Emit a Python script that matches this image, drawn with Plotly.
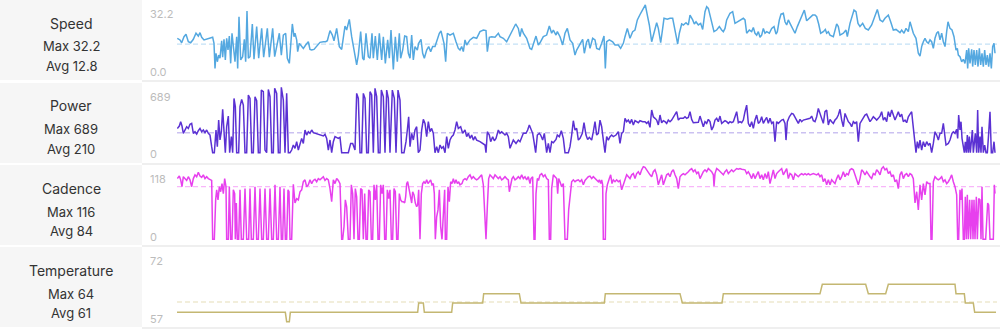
import plotly.graph_objects as go

# ---------------------------------------------------------------- summary text
metric_names = ["Speed", "Power", "Cadence", "Temperature"]
metric_max_text = ["32.2", "689", "116", "64"]
metric_avg = [12.8, 210, 84, 61]
metric_avg_text = ["12.8", "210", "84", "61"]
scale_top_text = ["32.2", "689", "118", "72"]
scale_bottom_text = ["0.0", "0", "0", "57"]

# ---------------------------------------------------------------- ride samples (t = elapsed seconds)
speed_samples = [
    (1, 15.7), (9, 14.9), (14, 13.5), (21, 16.5), (27, 17.7), (34, 14.0), (41, 13.5), (49, 15.2), (57, 18.2), (64, 16.8),
    (69, 18.5), (74, 16.2), (81, 14.9), (89, 15.2), (99, 15.7), (107, 16.2), (111, 13.2), (114, 0.8), (117, 8.3), (121, 4.1),
    (125, 7.4), (129, 5.8), (134, 14.5), (137, 6.3), (141, 15.2), (145, 5.0), (149, 15.7), (153, 9.9), (157, 16.8), (161, 3.3),
    (165, 18.2), (169, 9.9), (174, 4.1), (179, 16.5), (182, 0.8), (186, 26.4), (191, 5.0), (197, 6.6), (202, 15.2), (206, 4.1),
    (210, 29.2), (214, 5.8), (219, 6.6), (226, 22.8), (231, 5.3), (239, 21.5), (245, 5.8), (254, 20.6), (260, 6.3), (271, 20.6),
    (277, 6.3), (287, 20.6), (293, 6.6), (301, 13.2), (307, 18.2), (313, 7.4), (319, 17.3), (326, 18.2), (331, 5.8), (337, 3.3),
    (346, 22.8), (351, 16.5), (354, 18.2), (359, 14.9), (362, 9.1), (367, 13.2), (374, 11.6), (379, 10.7), (386, 12.4), (394, 14.0),
    (399, 10.2), (404, 9.9), (411, 10.2), (419, 11.6), (429, 13.7), (439, 14.0), (446, 14.0), (451, 14.5), (459, 19.5), (466, 17.3),
    (471, 14.5), (479, 20.6), (487, 11.6), (494, 10.2), (499, 17.3), (504, 21.8), (509, 19.8), (517, 25.1), (524, 16.5), (529, 11.6),
    (534, 6.6), (539, 2.5), (544, 7.4), (551, 19.0), (557, 5.8), (561, 5.0), (567, 18.2), (574, 6.6), (579, 5.8), (585, 18.2),
    (589, 5.8), (595, 16.8), (601, 5.0), (607, 18.2), (614, 5.0), (619, 16.5), (625, 3.3), (632, 14.9), (637, 5.8), (642, 19.8),
    (649, 0.3), (655, 16.5), (661, 4.1), (667, 18.2), (671, 5.8), (677, 9.9), (683, 16.8), (689, 16.5), (694, 8.3), (699, 5.8),
    (704, 17.3), (709, 5.0), (714, 11.6), (721, 9.9), (725, 13.2), (732, 15.2), (737, 8.3), (742, 5.8), (749, 9.9), (755, 11.6),
    (761, 9.1), (767, 11.6), (774, 11.6), (781, 15.7), (787, 18.2), (792, 19.3), (797, 16.5), (801, 13.2), (806, 4.1), (811, 18.2),
    (819, 17.3), (829, 18.2), (837, 14.0), (844, 10.7), (849, 9.9), (854, 11.6), (859, 9.1), (864, 14.9), (869, 12.4), (879, 14.9),
    (889, 16.2), (899, 15.7), (909, 19.0), (919, 19.8), (927, 19.5), (931, 9.1), (937, 16.2), (944, 16.5), (954, 16.2), (964, 18.2),
    (969, 16.5), (979, 15.7), (989, 14.0), (999, 17.3), (1009, 19.8), (1016, 22.8), (1024, 20.6), (1029, 16.5), (1034, 20.6), (1039, 18.2),
    (1049, 15.7), (1059, 10.7), (1064, 10.2), (1069, 13.2), (1077, 16.8), (1084, 12.4), (1089, 13.5), (1099, 16.5), (1109, 17.3), (1117, 21.8),
    (1124, 18.2), (1129, 19.8), (1137, 17.3), (1141, 19.0), (1149, 16.5), (1157, 12.4), (1164, 18.2), (1171, 20.6), (1179, 14.9), (1187, 13.2),
    (1194, 7.4), (1199, 9.9), (1209, 13.2), (1217, 15.2), (1222, 8.3), (1229, 14.0), (1234, 15.3), (1239, 10.7), (1247, 15.7), (1254, 14.9),
    (1259, 10.7), (1267, 10.2), (1274, 13.2), (1281, 16.8), (1285, 0.8), (1289, 14.0), (1297, 14.9), (1307, 14.0), (1314, 12.4), (1324, 12.4),
    (1331, 10.7), (1339, 13.2), (1344, 16.5), (1351, 20.6), (1359, 15.7), (1367, 19.0), (1374, 19.8), (1381, 24.8), (1391, 28.1), (1399, 30.5),
    (1405, 32.2), (1411, 27.2), (1417, 22.3), (1424, 14.0), (1431, 19.0), (1439, 23.4), (1444, 20.6), (1451, 13.5), (1457, 20.6), (1461, 25.6),
    (1471, 25.1), (1479, 25.6), (1487, 25.6), (1494, 19.8), (1502, 12.9), (1507, 18.2), (1514, 22.8), (1519, 22.3), (1527, 23.4), (1534, 22.3),
    (1539, 27.2), (1547, 24.8), (1552, 22.8), (1557, 23.9), (1564, 22.3), (1571, 23.1), (1577, 20.1), (1584, 28.9), (1589, 31.4), (1594, 30.5),
    (1599, 27.2), (1604, 24.8), (1611, 19.0), (1619, 19.8), (1627, 21.5), (1634, 19.8), (1639, 19.0), (1644, 20.6), (1649, 24.8), (1659, 28.1),
    (1667, 28.9), (1674, 23.1), (1681, 23.9), (1689, 24.8), (1699, 25.6), (1704, 24.8), (1709, 18.2), (1717, 19.8), (1724, 19.0), (1729, 21.1),
    (1734, 18.2), (1739, 17.3), (1744, 19.0), (1749, 16.2), (1754, 17.3), (1759, 20.6), (1764, 18.2), (1769, 19.0), (1777, 18.2), (1784, 20.6),
    (1791, 21.5), (1797, 17.8), (1801, 19.0), (1807, 24.8), (1812, 27.7), (1819, 28.1), (1824, 23.9), (1829, 22.3), (1834, 24.8), (1839, 23.1),
    (1847, 20.6), (1854, 18.2), (1861, 21.5), (1869, 24.8), (1877, 28.1), (1882, 29.7), (1889, 24.4), (1894, 25.1), (1899, 25.6), (1907, 27.2),
    (1914, 27.2), (1919, 26.4), (1925, 22.8), (1931, 18.2), (1939, 19.0), (1945, 20.1), (1949, 18.2), (1954, 19.0), (1959, 17.3), (1969, 16.5),
    (1979, 22.8), (1984, 21.5), (1989, 17.3), (1999, 18.2), (2007, 19.8), (2011, 16.5), (2019, 23.1), (2027, 28.1), (2031, 29.7), (2037, 28.9),
    (2043, 23.1), (2049, 21.5), (2057, 23.1), (2065, 20.6), (2074, 19.8), (2084, 22.3), (2094, 26.4), (2101, 30.0), (2109, 24.8), (2117, 23.9),
    (2124, 25.6), (2134, 27.2), (2141, 23.9), (2149, 19.8), (2157, 20.1), (2164, 19.0), (2169, 18.5), (2174, 19.8), (2181, 18.2), (2187, 20.6),
    (2194, 19.0), (2199, 23.9), (2204, 21.5), (2209, 18.2), (2217, 15.7), (2224, 8.3), (2229, 6.9), (2234, 11.6), (2239, 14.0), (2244, 15.7),
    (2249, 14.0), (2254, 13.2), (2259, 14.9), (2264, 14.0), (2269, 10.7), (2274, 15.7), (2279, 18.2), (2284, 19.0), (2289, 14.9), (2294, 18.2),
    (2299, 14.0), (2304, 11.6), (2309, 19.0), (2313, 23.9), (2319, 20.6), (2325, 19.8), (2331, 16.5), (2337, 9.9), (2341, 10.7), (2344, 7.4),
    (2349, 6.6), (2354, 4.1), (2359, 5.3), (2364, 3.3), (2369, 9.9), (2372, 0.8), (2375, 10.7), (2379, 3.3), (2384, 10.2), (2387, 1.7),
    (2391, 9.9), (2395, 2.5), (2399, 9.9), (2403, 1.7), (2407, 10.7), (2411, 2.5), (2415, 8.3), (2419, 1.7), (2423, 9.9), (2427, 2.5),
    (2431, 7.4), (2435, 1.7), (2439, 8.3), (2443, 0.8), (2447, 11.6), (2451, 13.2), (2454, 8.3),
]

power_samples = [
    (1, 256), (7, 281), (11, 327), (15, 281), (19, 204), (24, 246), (29, 274), (34, 256), (39, 299), (44, 309),
    (49, 204), (54, 221), (59, 197), (64, 232), (69, 256), (74, 221), (79, 239), (84, 211), (89, 239), (94, 204),
    (99, 186), (104, 63), (107, 0), (112, 0), (117, 239), (121, 63), (125, 344), (129, 134), (133, 221), (137, 457),
    (141, 169), (145, 0), (149, 274), (154, 386), (158, 0), (163, 169), (167, 0), (171, 572), (175, 485), (179, 0),
    (185, 0), (189, 485), (194, 562), (199, 502), (204, 0), (209, 0), (214, 608), (219, 572), (224, 0), (229, 0),
    (234, 590), (239, 548), (244, 0), (249, 0), (253, 660), (259, 643), (264, 28), (269, 0), (274, 667), (279, 590),
    (284, 0), (289, 0), (293, 678), (299, 625), (304, 0), (309, 0), (313, 689), (319, 555), (324, 0), (329, 625),
    (334, 0), (339, 0), (344, 28), (349, 81), (354, 46), (359, 116), (364, 28), (369, 98), (374, 151), (379, 98),
    (384, 239), (389, 186), (394, 221), (399, 204), (404, 239), (409, 211), (419, 197), (429, 186), (439, 176), (444, 193),
    (449, 151), (454, 28), (459, 134), (464, 0), (469, 116), (474, 169), (479, 162), (484, 151), (489, 162), (494, 0),
    (504, 0), (514, 0), (521, 98), (527, 98), (534, 28), (539, 625), (544, 572), (549, 0), (554, 0), (559, 625),
    (564, 572), (569, 0), (574, 0), (579, 643), (584, 608), (589, 0), (594, 678), (599, 590), (604, 0), (609, 0),
    (613, 660), (619, 590), (624, 0), (629, 660), (634, 572), (639, 0), (646, 660), (652, 572), (657, 0), (663, 660),
    (669, 555), (674, 0), (681, 0), (687, 116), (691, 239), (695, 379), (699, 63), (704, 204), (709, 134), (714, 239),
    (719, 274), (724, 0), (729, 28), (734, 239), (739, 351), (744, 309), (749, 169), (754, 327), (759, 221), (764, 256),
    (769, 204), (774, 0), (779, 63), (784, 0), (789, 81), (794, 46), (799, 63), (804, 0), (809, 169), (814, 46),
    (819, 134), (824, 169), (829, 186), (834, 239), (839, 327), (844, 256), (851, 274), (857, 204), (864, 239), (869, 169),
    (874, 204), (879, 151), (884, 186), (889, 133), (894, 169), (899, 133), (909, 116), (919, 98), (924, 81), (927, 0),
    (931, 221), (937, 186), (941, 116), (947, 169), (952, 126), (957, 151), (964, 239), (969, 204), (974, 221), (979, 204),
    (984, 186), (989, 204), (994, 169), (999, 46), (1004, 81), (1009, 133), (1017, 98), (1024, 133), (1029, 116), (1034, 169),
    (1039, 204), (1047, 204), (1052, 239), (1057, 292), (1062, 239), (1067, 204), (1071, 116), (1076, 0), (1081, 186), (1087, 204),
    (1091, 186), (1097, 133), (1102, 204), (1109, 0), (1114, 98), (1119, 0), (1124, 116), (1129, 105), (1137, 140), (1141, 186),
    (1147, 169), (1153, 232), (1159, 151), (1164, 0), (1174, 0), (1179, 63), (1184, 186), (1189, 337), (1194, 239), (1199, 256),
    (1204, 133), (1209, 151), (1216, 204), (1221, 316), (1227, 186), (1232, 140), (1237, 162), (1244, 133), (1249, 221), (1254, 327),
    (1259, 186), (1264, 204), (1269, 344), (1274, 274), (1279, 133), (1284, 0), (1289, 169), (1294, 133), (1299, 169), (1304, 186),
    (1309, 169), (1317, 186), (1324, 221), (1329, 98), (1334, 204), (1339, 221), (1344, 362), (1349, 327), (1354, 344), (1359, 309),
    (1364, 351), (1369, 292), (1374, 337), (1379, 327), (1384, 316), (1389, 337), (1397, 327), (1404, 327), (1409, 309), (1414, 327),
    (1419, 267), (1424, 450), (1429, 379), (1434, 362), (1439, 344), (1444, 292), (1449, 397), (1454, 316), (1459, 337), (1464, 327),
    (1469, 309), (1474, 344), (1479, 327), (1484, 344), (1489, 379), (1494, 414), (1499, 432), (1504, 344), (1509, 362), (1519, 362),
    (1524, 379), (1529, 362), (1534, 372), (1539, 432), (1544, 351), (1549, 316), (1554, 320), (1559, 320), (1564, 320), (1569, 386),
    (1574, 327), (1579, 274), (1584, 327), (1589, 309), (1594, 351), (1599, 327), (1604, 239), (1609, 274), (1614, 344), (1619, 362),
    (1624, 327), (1629, 386), (1634, 309), (1639, 327), (1644, 337), (1649, 327), (1654, 309), (1659, 327), (1664, 316), (1669, 327),
    (1674, 386), (1679, 432), (1684, 316), (1689, 327), (1694, 316), (1699, 344), (1704, 432), (1709, 502), (1714, 309), (1719, 274),
    (1724, 327), (1729, 256), (1734, 344), (1739, 397), (1744, 309), (1749, 327), (1754, 379), (1759, 309), (1764, 344), (1769, 372),
    (1774, 309), (1779, 362), (1784, 309), (1789, 327), (1794, 116), (1799, 327), (1804, 309), (1809, 327), (1814, 344), (1819, 351),
    (1824, 309), (1827, 133), (1831, 327), (1837, 379), (1844, 414), (1849, 407), (1854, 379), (1859, 337), (1864, 309), (1869, 351),
    (1874, 327), (1879, 344), (1889, 351), (1899, 362), (1904, 386), (1909, 337), (1914, 327), (1919, 379), (1924, 467), (1929, 414),
    (1934, 344), (1939, 309), (1944, 432), (1949, 450), (1954, 292), (1959, 351), (1964, 327), (1969, 309), (1974, 344), (1979, 362),
    (1984, 397), (1989, 457), (1994, 344), (1999, 274), (2004, 414), (2009, 372), (2014, 327), (2019, 309), (2024, 274), (2029, 327),
    (2034, 309), (2039, 327), (2044, 116), (2049, 309), (2054, 344), (2059, 362), (2064, 397), (2069, 407), (2074, 362), (2079, 327),
    (2084, 351), (2089, 379), (2094, 362), (2099, 344), (2104, 362), (2109, 386), (2114, 432), (2119, 344), (2124, 372), (2129, 327),
    (2134, 432), (2139, 379), (2144, 450), (2149, 397), (2154, 344), (2159, 386), (2164, 432), (2169, 379), (2174, 407), (2179, 327),
    (2184, 344), (2189, 316), (2194, 379), (2199, 407), (2204, 432), (2207, 327), (2211, 169), (2217, 0), (2221, 116), (2225, 46),
    (2229, 133), (2234, 28), (2239, 116), (2244, 63), (2249, 116), (2254, 81), (2259, 98), (2264, 0), (2269, 98), (2274, 221),
    (2279, 186), (2284, 133), (2289, 204), (2294, 204), (2299, 309), (2302, 204), (2307, 81), (2314, 98), (2319, 133), (2325, 204),
    (2329, 221), (2334, 204), (2339, 246), (2342, 151), (2345, 397), (2349, 239), (2352, 327), (2355, 151), (2359, 81), (2362, 0),
    (2365, 116), (2368, 0), (2371, 186), (2374, 0), (2377, 169), (2380, 0), (2383, 116), (2386, 239), (2389, 0), (2392, 151),
    (2395, 204), (2399, 0), (2402, 450), (2405, 0), (2409, 169), (2412, 0), (2415, 274), (2419, 0), (2423, 81), (2427, 0),
    (2431, 0), (2435, 204), (2439, 432), (2443, 0), (2447, 0), (2451, 116), (2454, 0),
]

cadence_samples = [
    (1, 97), (7, 101), (11, 95), (15, 84), (19, 100), (24, 97), (29, 94), (34, 100), (39, 95), (44, 84),
    (49, 97), (54, 103), (59, 100), (64, 107), (69, 101), (74, 99), (79, 103), (84, 97), (89, 100), (94, 97),
    (99, 95), (104, 94), (107, 0), (112, 0), (116, 63), (119, 79), (123, 63), (127, 84), (131, 76), (135, 89),
    (139, 73), (143, 97), (147, 84), (149, 0), (154, 0), (157, 84), (161, 0), (165, 0), (169, 79), (173, 73),
    (175, 0), (178, 58), (181, 0), (185, 0), (189, 79), (193, 0), (199, 0), (204, 81), (209, 0), (215, 0),
    (219, 81), (223, 0), (229, 0), (234, 84), (239, 0), (244, 0), (249, 81), (254, 0), (259, 0), (264, 81),
    (269, 0), (274, 0), (279, 81), (284, 0), (289, 0), (294, 87), (299, 0), (304, 0), (309, 84), (313, 0),
    (317, 0), (321, 81), (325, 0), (329, 0), (333, 79), (336, 76), (339, 0), (344, 0), (349, 88), (354, 58),
    (359, 65), (364, 63), (369, 76), (374, 79), (379, 92), (384, 95), (389, 84), (394, 87), (399, 95), (404, 89),
    (409, 94), (414, 96), (419, 92), (424, 97), (429, 95), (434, 97), (439, 100), (444, 94), (449, 97), (454, 95),
    (459, 81), (464, 60), (469, 95), (474, 89), (479, 97), (484, 94), (489, 89), (494, 0), (497, 0), (501, 20),
    (505, 63), (509, 52), (514, 0), (519, 0), (523, 87), (527, 73), (531, 0), (535, 81), (539, 68), (543, 0),
    (547, 0), (551, 81), (555, 79), (559, 0), (563, 73), (567, 0), (571, 0), (575, 79), (579, 76), (583, 0),
    (587, 0), (591, 87), (595, 63), (599, 87), (603, 0), (607, 0), (611, 87), (615, 73), (619, 87), (623, 0),
    (627, 0), (631, 79), (635, 65), (639, 79), (643, 0), (647, 0), (651, 81), (655, 76), (659, 0), (663, 0),
    (667, 73), (671, 63), (675, 60), (679, 60), (683, 58), (686, 68), (689, 89), (692, 92), (695, 84), (699, 73),
    (704, 58), (707, 76), (711, 71), (715, 58), (719, 52), (722, 55), (725, 79), (729, 0), (733, 73), (737, 89),
    (741, 92), (745, 89), (749, 95), (753, 89), (757, 92), (761, 95), (765, 87), (769, 89), (772, 73), (775, 0),
    (779, 36), (783, 47), (787, 79), (791, 20), (795, 0), (799, 52), (803, 79), (805, 0), (809, 0), (813, 84),
    (817, 60), (821, 92), (825, 89), (829, 97), (833, 89), (837, 95), (841, 89), (845, 92), (849, 87), (855, 89),
    (859, 95), (864, 97), (869, 95), (874, 100), (879, 103), (884, 97), (889, 100), (894, 97), (899, 95), (904, 97),
    (909, 100), (914, 103), (919, 87), (924, 36), (927, 0), (931, 52), (935, 97), (939, 103), (944, 100), (949, 97),
    (954, 103), (959, 100), (964, 97), (969, 100), (974, 95), (979, 97), (984, 100), (989, 97), (994, 95), (997, 76),
    (1001, 89), (1005, 97), (1009, 100), (1014, 95), (1019, 97), (1024, 100), (1029, 97), (1034, 103), (1039, 97), (1044, 100),
    (1049, 95), (1054, 100), (1059, 89), (1062, 97), (1067, 100), (1071, 0), (1074, 0), (1077, 73), (1081, 97), (1085, 95),
    (1089, 103), (1094, 105), (1099, 100), (1104, 103), (1109, 97), (1114, 95), (1117, 0), (1121, 0), (1124, 81), (1129, 103),
    (1134, 100), (1139, 97), (1142, 73), (1145, 97), (1149, 92), (1154, 84), (1159, 89), (1164, 0), (1167, 0), (1171, 0),
    (1175, 47), (1184, 92), (1189, 95), (1194, 92), (1199, 94), (1204, 95), (1209, 92), (1214, 95), (1219, 87), (1224, 94),
    (1229, 97), (1234, 100), (1239, 101), (1244, 97), (1249, 100), (1254, 97), (1259, 95), (1264, 92), (1267, 95), (1271, 89),
    (1274, 95), (1277, 87), (1279, 0), (1285, 0), (1287, 73), (1291, 87), (1297, 97), (1301, 103), (1305, 89), (1309, 95),
    (1314, 92), (1319, 95), (1324, 92), (1329, 94), (1334, 79), (1339, 89), (1344, 95), (1349, 103), (1354, 100), (1359, 97),
    (1364, 103), (1369, 105), (1374, 97), (1379, 105), (1384, 108), (1389, 103), (1394, 111), (1399, 116), (1404, 115), (1409, 111),
    (1414, 105), (1419, 103), (1424, 100), (1429, 108), (1434, 111), (1439, 103), (1444, 87), (1449, 95), (1454, 103), (1459, 87),
    (1464, 97), (1469, 103), (1474, 105), (1479, 100), (1484, 108), (1489, 111), (1494, 103), (1499, 97), (1504, 81), (1509, 100),
    (1514, 103), (1519, 105), (1524, 103), (1529, 105), (1534, 108), (1539, 111), (1544, 113), (1549, 108), (1554, 111), (1559, 105),
    (1564, 108), (1569, 97), (1574, 103), (1579, 108), (1584, 111), (1589, 108), (1594, 113), (1599, 111), (1604, 108), (1609, 103),
    (1611, 85), (1614, 105), (1619, 113), (1624, 111), (1629, 108), (1634, 105), (1639, 103), (1644, 108), (1649, 111), (1654, 105),
    (1659, 108), (1664, 111), (1669, 108), (1674, 111), (1679, 113), (1684, 112), (1689, 113), (1694, 112), (1699, 111), (1704, 111),
    (1709, 105), (1714, 108), (1719, 103), (1724, 97), (1729, 105), (1734, 97), (1739, 103), (1744, 108), (1749, 97), (1754, 103),
    (1759, 95), (1764, 105), (1769, 97), (1774, 108), (1779, 89), (1784, 103), (1789, 111), (1794, 97), (1799, 105), (1804, 108),
    (1809, 111), (1814, 113), (1819, 103), (1824, 108), (1829, 113), (1834, 97), (1839, 105), (1844, 103), (1849, 95), (1854, 105),
    (1859, 103), (1864, 100), (1869, 103), (1874, 105), (1879, 103), (1884, 105), (1889, 103), (1894, 105), (1899, 103), (1909, 105),
    (1919, 103), (1924, 105), (1929, 100), (1934, 103), (1939, 92), (1944, 97), (1949, 87), (1954, 95), (1959, 87), (1964, 95),
    (1969, 92), (1974, 89), (1979, 97), (1984, 103), (1989, 95), (1994, 100), (1999, 108), (2004, 100), (2009, 105), (2014, 103),
    (2019, 111), (2024, 113), (2029, 111), (2034, 103), (2039, 97), (2044, 87), (2049, 97), (2054, 111), (2059, 108), (2064, 103),
    (2069, 108), (2074, 103), (2079, 100), (2084, 97), (2089, 105), (2094, 103), (2099, 111), (2104, 108), (2109, 103), (2114, 113),
    (2119, 116), (2124, 111), (2129, 113), (2134, 105), (2139, 108), (2144, 100), (2149, 103), (2154, 92), (2159, 95), (2164, 81),
    (2169, 103), (2174, 108), (2179, 97), (2184, 103), (2189, 105), (2194, 100), (2199, 105), (2204, 103), (2209, 97), (2214, 58),
    (2219, 76), (2224, 47), (2229, 87), (2234, 63), (2239, 89), (2244, 71), (2249, 92), (2254, 89), (2259, 89), (2262, 0),
    (2265, 0), (2269, 92), (2274, 100), (2279, 97), (2284, 95), (2289, 97), (2294, 100), (2299, 92), (2304, 95), (2309, 89),
    (2314, 92), (2319, 97), (2324, 103), (2329, 92), (2334, 84), (2339, 71), (2342, 0), (2345, 0), (2349, 79), (2352, 63),
    (2355, 81), (2359, 0), (2362, 0), (2365, 68), (2368, 0), (2371, 71), (2374, 0), (2378, 63), (2381, 0), (2385, 63),
    (2388, 0), (2391, 63), (2394, 0), (2398, 68), (2401, 0), (2405, 65), (2409, 63), (2412, 0), (2415, 84), (2418, 0),
    (2426, 0), (2432, 58), (2435, 55), (2439, 0), (2449, 0), (2452, 87), (2454, 73),
]

temperature_samples = [
    (0, 59), (325, 59), (329, 57.2), (337, 57.2), (340, 59), (722, 59), (725, 60.8), (739, 60.8), (742, 59), (824, 59),
    (827, 60.8), (917, 60.8), (920, 62.6), (1027, 62.6), (1032, 60.8), (1282, 60.8), (1285, 62.6), (1509, 62.6), (1516, 60.8), (1635, 60.8),
    (1639, 62.6), (1929, 62.6), (1936, 64.4), (2066, 64.4), (2074, 62.6), (2126, 62.6), (2134, 64.4), (2334, 64.4), (2337, 62.6), (2362, 62.6),
    (2365, 60.8), (2389, 60.8), (2393, 59), (2457, 59),
]

series_samples = [speed_samples, power_samples, cadence_samples, temperature_samples]
ride_end_s = 2460

# ---------------------------------------------------------------- styling
W, H = 1000, 335
FONT = "Inter, Roboto, 'Open Sans', sans-serif"
line_colors = ["#54a8e0", "#5b31d3", "#e740ee", "#c4b772"]
avg_colors = ["#c4e1f6", "#cbc1f1", "#f8b6fa", "#eee9cf"]
y_ranges = [[-4.95, 34.67], [-108.5, 734.5], [-9.1, 118.7], [56.18, 71.59]]
row_tops = [0, 83, 165, 247]
row_h = 80
label_w = 142


def py(px):
    """Pixel row (from the top) -> paper coordinate."""
    return 1 - px / H


fig = go.Figure()
shapes, annotations = [], []

for i, name in enumerate(metric_names):
    top = row_tops[i]
    yref = "y" if i == 0 else f"y{i + 1}"
    axis_key = "yaxis" if i == 0 else f"yaxis{i + 1}"

    t_vals = [p[0] for p in series_samples[i]]
    v_vals = [p[1] for p in series_samples[i]]

    # average reference line
    fig.add_trace(go.Scatter(
        x=[0, ride_end_s], y=[metric_avg[i], metric_avg[i]], xaxis="x", yaxis=yref,
        mode="lines", line=dict(color=avg_colors[i], width=1.3, dash="5px,3px"),
        hoverinfo="skip", showlegend=False,
    ))
    # metric trace
    fig.add_trace(go.Scatter(
        x=t_vals, y=v_vals, xaxis="x", yaxis=yref, mode="lines",
        line=dict(color=line_colors[i], width=1.5), hoverinfo="skip", showlegend=False,
    ))

    fig.layout[axis_key] = dict(
        domain=[py(top + row_h), py(top)], range=y_ranges[i],
        visible=False, fixedrange=True,
    )

    # left summary cell
    shapes.append(dict(type="rect", xref="paper", yref="paper", x0=0, x1=label_w / W,
                       y0=py(top + row_h), y1=py(top), fillcolor="#f6f6f6",
                       line=dict(width=0), layer="below"))
    # divider under each chart row
    shapes.append(dict(type="rect", xref="paper", yref="paper", x0=label_w / W, x1=1,
                       y0=py(top + row_h + 2), y1=py(top + row_h), fillcolor="#efefef",
                       line=dict(width=0), layer="below"))

    cx = 71 / W
    annotations += [
        dict(text=name, x=cx, y=py(top + 23), xref="paper", yref="paper", showarrow=False,
             xanchor="center", yanchor="middle", font=dict(family=FONT, size=14, color="#333333")),
        dict(text=f"Max {metric_max_text[i]}", x=cx, y=py(top + 46.5), xref="paper", yref="paper",
             showarrow=False, xanchor="center", yanchor="middle",
             font=dict(family=FONT, size=13, color="#333333")),
        dict(text=f"Avg {metric_avg_text[i]}", x=cx, y=py(top + 66), xref="paper", yref="paper",
             showarrow=False, xanchor="center", yanchor="middle",
             font=dict(family=FONT, size=13, color="#333333")),
        dict(text=scale_top_text[i], x=148 / W, y=py(top + 14), xref="paper", yref="paper",
             showarrow=False, xanchor="left", yanchor="middle",
             font=dict(family=FONT, size=11, color="#bcbcbc")),
        dict(text=scale_bottom_text[i], x=148 / W, y=py(top + 71.5), xref="paper", yref="paper",
             showarrow=False, xanchor="left", yanchor="middle",
             font=dict(family=FONT, size=11, color="#bcbcbc")),
    ]

fig.update_layout(
    width=W, height=H, margin=dict(l=0, r=0, t=0, b=0),
    paper_bgcolor="white", plot_bgcolor="rgba(0,0,0,0)",
    xaxis=dict(domain=[177 / W, 997 / W], range=[0, ride_end_s], visible=False, fixedrange=True),
    shapes=shapes, annotations=annotations, showlegend=False, hovermode=False,
)

fig.write_html("out.html", config={"displayModeBar": False})
